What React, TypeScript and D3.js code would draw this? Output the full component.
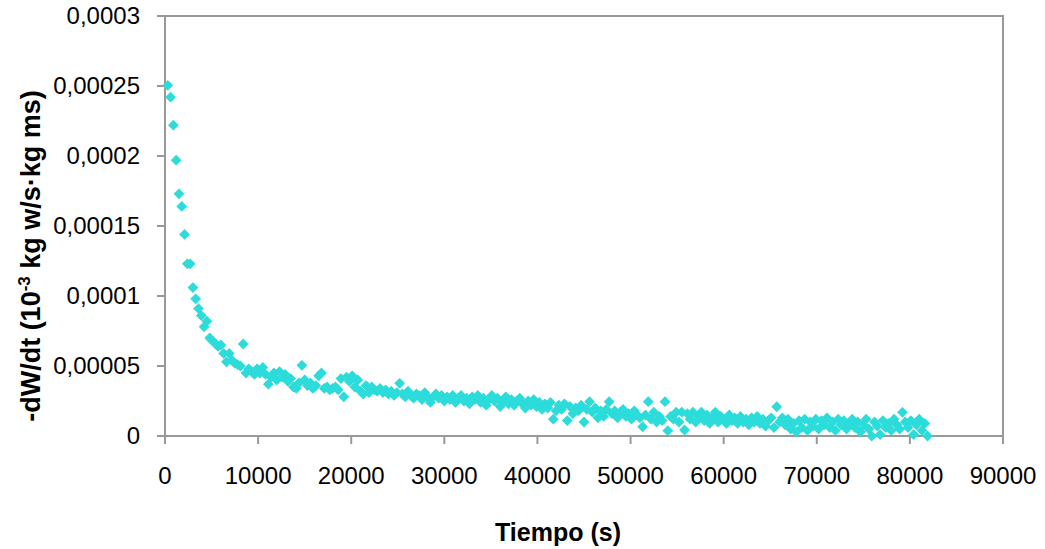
import React from "react";
import * as d3 from "d3";

// Time (s)
const timeS: number[] = [
  300, 600, 900, 1200, 1500, 1800, 2100, 2400, 2700, 3000, 3300, 3600, 3900, 4200, 4500, 4800, 5100, 5400, 5700, 6000,
  6300, 6600, 6900, 7200, 7500, 7800, 8100, 8400, 8700, 9000, 9300, 9600, 9900, 10200, 10500, 10800, 11100, 11400, 11700, 12000,
  12300, 12600, 12900, 13200, 13500, 13800, 14100, 14400, 14700, 15000, 15300, 15600, 15900, 16200, 16500, 16800, 17100, 17400, 17700, 18000,
  18300, 18600, 18900, 19200, 19500, 19800, 20100, 20400, 20700, 21000, 21300, 21600, 21900, 22200, 22500, 22800, 23100, 23400, 23700, 24000,
  24300, 24600, 24900, 25200, 25500, 25800, 26100, 26400, 26700, 27000, 27300, 27600, 27900, 28200, 28500, 28800, 29100, 29400, 29700, 30000,
  30300, 30600, 30900, 31200, 31500, 31800, 32100, 32400, 32700, 33000, 33300, 33600, 33900, 34200, 34500, 34800, 35100, 35400, 35700, 36000,
  36300, 36600, 36900, 37200, 37500, 37800, 38100, 38400, 38700, 39000, 39300, 39600, 39900, 40200, 40500, 40800, 41100, 41400, 41700, 42000,
  42300, 42600, 42900, 43200, 43500, 43800, 44100, 44400, 44700, 45000, 45300, 45600, 45900, 46200, 46500, 46800, 47100, 47400, 47700, 48000,
  48300, 48600, 48900, 49200, 49500, 49800, 50100, 50400, 50700, 51000, 51300, 51600, 51900, 52200, 52500, 52800, 53100, 53400, 53700, 54000,
  54300, 54600, 54900, 55200, 55500, 55800, 56100, 56400, 56700, 57000, 57300, 57600, 57900, 58200, 58500, 58800, 59100, 59400, 59700, 60000,
  60300, 60600, 60900, 61200, 61500, 61800, 62100, 62400, 62700, 63000, 63300, 63600, 63900, 64200, 64500, 64800, 65100, 65400, 65700, 66000,
  66300, 66600, 66900, 67200, 67500, 67800, 68100, 68400, 68700, 69000, 69300, 69600, 69900, 70200, 70500, 70800, 71100, 71400, 71700, 72000,
  72300, 72600, 72900, 73200, 73500, 73800, 74100, 74400, 74700, 75000, 75300, 75600, 75900, 76200, 76500, 76800, 77100, 77400, 77700, 78000,
  78300, 78600, 78900, 79200, 79500, 79800, 80100, 80400, 80700, 81000, 81300, 81600, 81900,
];

// -dW/dt, in units of 1e-5 (kg w/s·kg ms, x10^-3)
const rateE5: number[] = [
  25.05, 24.2, 22.2, 19.7, 17.3, 16.4, 14.4, 12.3, 12.3, 10.6, 9.8, 9.1, 8.6, 7.8, 8.2, 7.0, 6.8, 6.6, 6.4, 6.5,
  5.9, 5.3, 5.9, 5.4, 5.2, 5.1, 5.0, 6.57, 4.5, 4.8, 4.6, 4.4, 4.8, 4.5, 4.9, 4.4, 3.7, 4.2, 4.5, 4.0,
  4.6, 4.2, 4.4, 3.9, 4.1, 3.5, 3.4, 3.8, 5.05, 4.0, 3.6, 3.8, 3.4, 3.6, 4.3, 4.5, 3.4, 3.5, 3.3, 3.4,
  3.5, 3.3, 4.1, 2.8, 4.2, 3.9, 4.3, 3.5, 4.0, 3.2, 3.0, 3.6, 3.1, 3.5, 3.3, 3.2, 3.4, 3.1, 3.3, 3.0,
  3.2, 2.9, 3.1, 3.76, 3.0, 2.8, 3.2, 2.9, 2.7, 3.0, 2.9, 2.6, 3.1, 2.8, 2.4, 2.8, 3.0, 2.7, 2.9, 2.5,
  2.8, 2.6, 2.9, 2.4, 2.7, 2.9, 2.5, 2.7, 2.3, 2.8, 2.6, 2.9, 2.4, 2.7, 2.2, 2.6, 2.9, 2.5, 2.7, 2.1,
  2.4, 2.8, 2.3, 2.6, 2.2, 2.5, 2.7, 2.3, 2.0, 2.5, 2.2, 2.6, 2.1, 2.4, 1.9, 2.3, 2.0, 2.4, 1.2, 1.8,
  2.2, 1.9, 2.3, 1.1, 2.1, 1.6, 2.0, 1.8, 2.2, 1.0, 1.9, 2.45, 1.7, 2.0, 1.3, 1.8, 1.4, 1.9, 2.45, 1.6,
  1.8, 1.3, 1.7, 1.9, 1.4, 1.6, 1.2, 1.8, 1.5, 1.3, 0.66, 1.5, 2.45, 1.2, 1.7, 1.0, 1.4, 1.1, 2.45, 0.38,
  1.4, 1.2, 1.7, 1.0, 1.7, 0.43, 1.6, 1.2, 1.7, 1.0, 1.4, 1.7, 1.1, 1.5, 0.9, 1.3, 1.7, 1.0, 1.4, 1.2,
  0.9, 1.5, 1.1, 1.3, 0.9, 1.4, 1.0, 1.2, 0.8, 1.3, 1.0, 1.4, 0.9, 1.2, 0.7, 1.1, 1.3, 0.6, 2.09, 1.0,
  1.3, 0.8, 1.2, 0.5, 0.9, 0.3, 1.1, 0.6, 1.2, 0.4, 1.0, 0.7, 1.2, 0.5, 1.1, 0.8, 1.3, 0.6, 1.0, 0.4,
  1.2, 0.8, 1.1, 0.5, 0.9, 1.2, 0.6, 1.0, 0.3, 0.8, 1.2, 0.5, 0.0, 1.0, 0.7, 0.1, 1.1, 0.6, 0.9, 0.4,
  1.2, 0.8, 0.5, 1.69, 1.0, 0.6, 1.1, 0.1, 0.8, 1.2, 0.4, 0.9, 0.0,
];

const xTicks: number[] = [0, 10000, 20000, 30000, 40000, 50000, 60000, 70000, 80000, 90000];
const xTickLabels: string[] = ["0", "10000", "20000", "30000", "40000", "50000", "60000", "70000", "80000", "90000"];
const yTicks: number[] = [0, 0.00005, 0.0001, 0.00015, 0.0002, 0.00025, 0.0003];
const yTickLabels: string[] = ["0", "0,00005", "0,0001", "0,00015", "0,0002", "0,00025", "0,0003"];

const W = 1045;
const H = 549;
const margin = { left: 165, right: 42, top: 16, bottom: 113 };
const FONT = "'Liberation Sans', Arial, Helvetica, sans-serif";
const AXIS = "#999999";
const COLOR = "#2BDCDA";

export default function App() {
  const x = d3.scaleLinear().domain([0, 90000]).range([margin.left, W - margin.right]);
  const y = d3.scaleLinear().domain([0, 0.0003]).range([H - margin.bottom, margin.top]);
  const data = timeS.map((t, i) => ({ t, v: rateE5[i] * 1e-5 }));
  const s = 5.4;
  const diamond = `M0,${-s}L${s},0L0,${s}L${-s},0Z`;
  const x0 = x(0), x1 = x(90000), y0 = y(0), y1 = y(0.0003);

  return (
    <svg width={W} height={H} style={{ position: "absolute", left: 0, top: 0, background: "#fff" }} fontFamily={FONT}>
      <rect x={0} y={0} width={W} height={H} fill="#fff" />
      {/* plot frame */}
      <rect x={x0} y={y1} width={x1 - x0} height={y0 - y1} fill="none" stroke={AXIS} strokeWidth={2} />
      {/* y ticks */}
      {yTicks.map((v, i) => (
        <g key={"y" + i}>
          <line x1={x0 - 8} x2={x0} y1={y(v)} y2={y(v)} stroke={AXIS} strokeWidth={2} />
          <text x={140} y={y(v)} dy="0.35em" textAnchor="end" fontSize={24} fill="#000">
            {yTickLabels[i]}
          </text>
        </g>
      ))}
      {/* x ticks */}
      {xTicks.map((v, i) => (
        <g key={"x" + i}>
          <line x1={x(v)} x2={x(v)} y1={y0} y2={y0 + 8} stroke={AXIS} strokeWidth={2} />
          <text x={x(v)} y={476} dy="0.35em" textAnchor="middle" fontSize={24} fill="#000">
            {xTickLabels[i]}
          </text>
        </g>
      ))}
      {/* points */}
      {data.map((d, i) => (
        <path key={"p" + i} d={diamond} transform={`translate(${x(d.t)},${y(d.v)})`} fill={COLOR} />
      ))}
      {/* axis titles */}
      <text x={558} y={541} textAnchor="middle" fontSize={25} fontWeight="bold" fill="#000">
        Tiempo (s)
      </text>
      <text transform={`translate(40,${(y0 + y1) / 2 + 30}) rotate(-90)`} textAnchor="middle" fontSize={27} fontWeight="bold" fill="#000">
        -dW/dt (10
        <tspan dy={-10} fontSize={17}>-3</tspan>
        <tspan dy={10}> kg w/s·kg ms)</tspan>
      </text>
    </svg>
  );
}
